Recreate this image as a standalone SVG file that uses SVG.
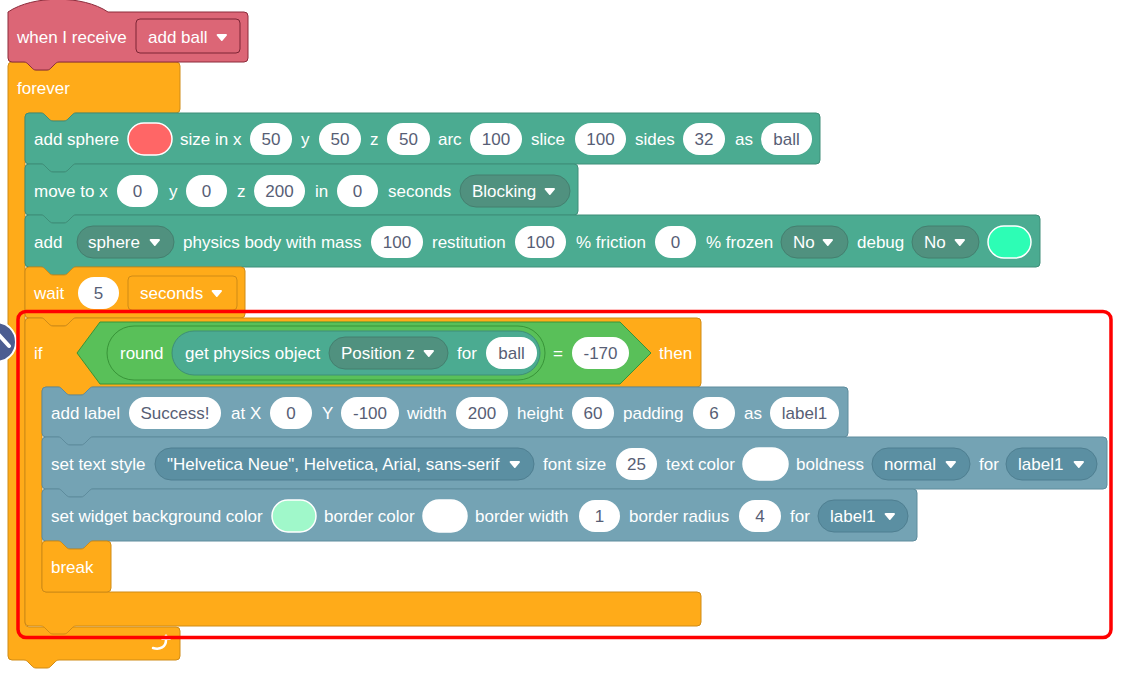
<svg xmlns="http://www.w3.org/2000/svg" width="1124" height="674" viewBox="0 0 1124 674">
  <defs>
    <style>
      text { font-family: "Liberation Sans", Arial, sans-serif; font-size: 17px; fill: #ffffff; }
      .v { fill: #575E75; text-anchor: middle; }
      .blk { stroke-width: 1; }
      .orange { fill: #FFAB19; stroke: #CF8B17; }
      .teal { fill: #4BAB91; stroke: #3E8E78; }
      .slate { fill: #74A3B4; stroke: #5E8C9D; }
      .green { fill: #59C059; stroke: #389438; }
      .pink { fill: #DC6676; stroke: #8C2B3B; }
      .field { fill: #ffffff; stroke: none; }
      .dd-teal { fill: #50917F; stroke: #447F6F; }
      .dd-slate { fill: #5B8FA2; stroke: #4F7F91; }
      .dd-orange { fill: #FFAB19; stroke: #CF8B17; }
      .dd-pink { fill: #DC6676; stroke: #7D2535; }
      .swatch { stroke: #ffffff; stroke-width: 1.5; }
    </style>
    <path id="tri" d="M0,0 h10 a1,1 0 0 1 0.8,1.6 l-4.2,4.8 a1,1 0 0 1 -1.6,0 l-4.2,-4.8 a1,1 0 0 1 0.8,-1.6 z" fill="#ffffff"/>
  </defs>

  <!-- forever loop (C block) -->
  <g id="forever">
    <path class="blk orange" d="M8,66 a4,4 0 0 1 4,-4 h12 c2,0 3,1 4,2 l4,4 c1,1 2,2 4,2 h11 c2,0 3,-1 4,-2 l4,-4 c1,-1 2,-2 4,-2 H176 a4,4 0 0 1 4,4 V109 a4,4 0 0 1 -4,4 H76 c-2,0 -3,1 -4,2 l-4,4 c-1,1 -2,2 -4,2 h-11 c-2,0 -3,-1 -4,-2 l-4,-4 c-1,-1 -2,-2 -4,-2 H29 a4,4 0 0 0 -4,4 V623 a4,4 0 0 0 4,4 H176 a4,4 0 0 1 4,4 V656 a4,4 0 0 1 -4,4 H59 c-2,0 -3,1 -4,2 l-4,4 c-1,1 -2,2 -4,2 h-11 c-2,0 -3,-1 -4,-2 l-4,-4 c-1,-1 -2,-2 -4,-2 H12 a4,4 0 0 1 -4,-4 Z"/>
    <text x="17" y="94">forever</text>
    <path d="M153,648 c7,2 13,-1 13,-8" fill="none" stroke="#ffffff" stroke-width="2.5" stroke-linecap="round"/>
    <path d="M161,640 l5,-6 l5,6 z" fill="#ffffff"/>
  </g>

  <!-- hat block -->
  <g id="when-i-receive">
    <path class="blk pink" d="M8,12 c25,-17 75,-17 100,0 H244 a4,4 0 0 1 4,4 V58 a4,4 0 0 1 -4,4 H59 c-2,0 -3,1 -4,2 l-4,4 c-1,1 -2,2 -4,2 h-11 c-2,0 -3,-1 -4,-2 l-4,-4 c-1,-1 -2,-2 -4,-2 H12 a4,4 0 0 1 -4,-4 Z"/>
    <text x="17" y="43">when I receive</text>
    <rect class="dd-pink" x="136" y="19" width="104" height="34" rx="4"/>
    <text x="148" y="43">add ball</text>
    <use href="#tri" x="216" y="34"/>
  </g>

  <!-- add sphere -->
  <g id="add-sphere">
    <path class="blk teal" d="M25,117 a4,4 0 0 1 4,-4 h12 c2,0 3,1 4,2 l4,4 c1,1 2,2 4,2 h11 c2,0 3,-1 4,-2 l4,-4 c1,-1 2,-2 4,-2 H816 a4,4 0 0 1 4,4 V160 a4,4 0 0 1 -4,4 H76 c-2,0 -3,1 -4,2 l-4,4 c-1,1 -2,2 -4,2 h-11 c-2,0 -3,-1 -4,-2 l-4,-4 c-1,-1 -2,-2 -4,-2 H29 a4,4 0 0 1 -4,-4 Z"/>
    <text x="34" y="145">add sphere</text>
    <rect class="swatch" x="128" y="123" width="44" height="32" rx="16" fill="#FF6666"/>
    <text x="180" y="145">size in x</text>
    <rect class="field" x="250" y="123" width="42" height="32" rx="16"/>
    <text class="v" x="271" y="145">50</text>
    <text x="301" y="145">y</text>
    <rect class="field" x="319" y="123" width="42" height="32" rx="16"/>
    <text class="v" x="340" y="145">50</text>
    <text x="370" y="145">z</text>
    <rect class="field" x="387" y="123" width="43" height="32" rx="16"/>
    <text class="v" x="408.5" y="145">50</text>
    <text x="438" y="145">arc</text>
    <rect class="field" x="470" y="123" width="52" height="32" rx="16"/>
    <text class="v" x="496" y="145">100</text>
    <text x="531" y="145">slice</text>
    <rect class="field" x="575" y="123" width="51" height="32" rx="16"/>
    <text class="v" x="600.5" y="145">100</text>
    <text x="635" y="145">sides</text>
    <rect class="field" x="683" y="123" width="42" height="32" rx="16"/>
    <text class="v" x="704" y="145">32</text>
    <text x="735" y="145">as</text>
    <rect class="field" x="761" y="123" width="51" height="32" rx="16"/>
    <text class="v" x="786.5" y="145">ball</text>
  </g>

  <!-- move to -->
  <g id="move-to">
    <path class="blk teal" d="M25,168 a4,4 0 0 1 4,-4 h12 c2,0 3,1 4,2 l4,4 c1,1 2,2 4,2 h11 c2,0 3,-1 4,-2 l4,-4 c1,-1 2,-2 4,-2 H574 a4,4 0 0 1 4,4 V211 a4,4 0 0 1 -4,4 H76 c-2,0 -3,1 -4,2 l-4,4 c-1,1 -2,2 -4,2 h-11 c-2,0 -3,-1 -4,-2 l-4,-4 c-1,-1 -2,-2 -4,-2 H29 a4,4 0 0 1 -4,-4 Z"/>
    <text x="34" y="197">move to x</text>
    <rect class="field" x="117" y="175" width="41" height="32" rx="16"/>
    <text class="v" x="137.5" y="197">0</text>
    <text x="169" y="197">y</text>
    <rect class="field" x="186" y="175" width="41" height="32" rx="16"/>
    <text class="v" x="206.5" y="197">0</text>
    <text x="237" y="197">z</text>
    <rect class="field" x="254" y="175" width="51" height="32" rx="16"/>
    <text class="v" x="279.5" y="197">200</text>
    <text x="315" y="197">in</text>
    <rect class="field" x="337" y="175" width="41" height="32" rx="16"/>
    <text class="v" x="357.5" y="197">0</text>
    <text x="388" y="197">seconds</text>
    <rect class="dd-teal" x="460" y="175" width="110" height="32" rx="16"/>
    <text x="472" y="197">Blocking</text>
    <use href="#tri" x="544" y="188"/>
  </g>

  <!-- physics body -->
  <g id="add-physics-body">
    <path class="blk teal" d="M25,219 a4,4 0 0 1 4,-4 h12 c2,0 3,1 4,2 l4,4 c1,1 2,2 4,2 h11 c2,0 3,-1 4,-2 l4,-4 c1,-1 2,-2 4,-2 H1036 a4,4 0 0 1 4,4 V263 a4,4 0 0 1 -4,4 H76 c-2,0 -3,1 -4,2 l-4,4 c-1,1 -2,2 -4,2 h-11 c-2,0 -3,-1 -4,-2 l-4,-4 c-1,-1 -2,-2 -4,-2 H29 a4,4 0 0 1 -4,-4 Z"/>
    <text x="34" y="248">add</text>
    <rect class="dd-teal" x="77" y="226" width="97" height="32" rx="16"/>
    <text x="88" y="248">sphere</text>
    <use href="#tri" x="149" y="239"/>
    <text x="183" y="248">physics body with mass</text>
    <rect class="field" x="371" y="226" width="52" height="32" rx="16"/>
    <text class="v" x="397" y="248">100</text>
    <text x="432" y="248">restitution</text>
    <rect class="field" x="515" y="226" width="51" height="32" rx="16"/>
    <text class="v" x="540.5" y="248">100</text>
    <text x="576" y="248">% friction</text>
    <rect class="field" x="655" y="226" width="41" height="32" rx="16"/>
    <text class="v" x="675.5" y="248">0</text>
    <text x="706" y="248">% frozen</text>
    <rect class="dd-teal" x="781" y="226" width="67" height="32" rx="16"/>
    <text x="793" y="248">No</text>
    <use href="#tri" x="822" y="239"/>
    <text x="857" y="248">debug</text>
    <rect class="dd-teal" x="912" y="226" width="67" height="32" rx="16"/>
    <text x="924" y="248">No</text>
    <use href="#tri" x="954" y="239"/>
    <rect class="swatch" x="988" y="226" width="43" height="32" rx="16" fill="#2DFDB5"/>
  </g>

  <!-- wait -->
  <g id="wait">
    <path class="blk orange" d="M25,271 a4,4 0 0 1 4,-4 h12 c2,0 3,1 4,2 l4,4 c1,1 2,2 4,2 h11 c2,0 3,-1 4,-2 l4,-4 c1,-1 2,-2 4,-2 H241 a4,4 0 0 1 4,4 V314 a4,4 0 0 1 -4,4 H76 c-2,0 -3,1 -4,2 l-4,4 c-1,1 -2,2 -4,2 h-11 c-2,0 -3,-1 -4,-2 l-4,-4 c-1,-1 -2,-2 -4,-2 H29 a4,4 0 0 1 -4,-4 Z"/>
    <text x="34" y="299">wait</text>
    <rect class="field" x="78" y="277" width="41" height="32" rx="16"/>
    <text class="v" x="98.5" y="299">5</text>
    <rect class="dd-orange" x="128" y="276" width="109" height="34" rx="4"/>
    <text x="140" y="299">seconds</text>
    <use href="#tri" x="211" y="290"/>
  </g>

  <!-- if ... then (C block) -->
  <g id="if-then">
    <path class="blk orange" d="M25,322 a4,4 0 0 1 4,-4 h12 c2,0 3,1 4,2 l4,4 c1,1 2,2 4,2 h11 c2,0 3,-1 4,-2 l4,-4 c1,-1 2,-2 4,-2 H697 a4,4 0 0 1 4,4 V383 a4,4 0 0 1 -4,4 H93 c-2,0 -3,1 -4,2 l-4,4 c-1,1 -2,2 -4,2 h-11 c-2,0 -3,-1 -4,-2 l-4,-4 c-1,-1 -2,-2 -4,-2 H46 a4,4 0 0 0 -4,4 V588 a4,4 0 0 0 4,4 H697 a4,4 0 0 1 4,4 V622 a4,4 0 0 1 -4,4 H76 c-2,0 -3,1 -4,2 l-4,4 c-1,1 -2,2 -4,2 h-11 c-2,0 -3,-1 -4,-2 l-4,-4 c-1,-1 -2,-2 -4,-2 H29 a4,4 0 0 1 -4,-4 Z"/>
    <text x="34" y="359">if</text>
    <polygon class="blk green" points="77,353 100,322 620,322 651,353 620,384 100,384"/>
    <rect class="blk green" x="107" y="326" width="438" height="54" rx="27"/>
    <text x="120" y="359">round</text>
    <rect class="blk teal" x="172" y="331" width="368" height="44" rx="22"/>
    <text x="185" y="359">get physics object</text>
    <rect class="dd-teal" x="329" y="337" width="119" height="32" rx="16"/>
    <text x="341" y="359">Position z</text>
    <use href="#tri" x="423" y="350"/>
    <text x="457" y="359">for</text>
    <rect class="field" x="486" y="337" width="51" height="32" rx="16"/>
    <text class="v" x="511.5" y="359">ball</text>
    <text x="553" y="359">=</text>
    <rect class="field" x="572" y="337" width="57" height="32" rx="16"/>
    <text class="v" x="600.5" y="359">-170</text>
    <text x="659" y="359">then</text>
  </g>

  <!-- add label -->
  <g id="add-label">
    <path class="blk slate" d="M42,391 a4,4 0 0 1 4,-4 h12 c2,0 3,1 4,2 l4,4 c1,1 2,2 4,2 h11 c2,0 3,-1 4,-2 l4,-4 c1,-1 2,-2 4,-2 H844 a4,4 0 0 1 4,4 V433 a4,4 0 0 1 -4,4 H93 c-2,0 -3,1 -4,2 l-4,4 c-1,1 -2,2 -4,2 h-11 c-2,0 -3,-1 -4,-2 l-4,-4 c-1,-1 -2,-2 -4,-2 H46 a4,4 0 0 1 -4,-4 Z"/>
    <text x="51" y="419">add label</text>
    <rect class="field" x="129" y="397" width="92" height="32" rx="16"/>
    <text class="v" x="175" y="419">Success!</text>
    <text x="231" y="419">at X</text>
    <rect class="field" x="270" y="397" width="42" height="32" rx="16"/>
    <text class="v" x="291" y="419">0</text>
    <text x="322" y="419">Y</text>
    <rect class="field" x="341" y="397" width="58" height="32" rx="16"/>
    <text class="v" x="370" y="419">-100</text>
    <text x="407" y="419">width</text>
    <rect class="field" x="456" y="397" width="52" height="32" rx="16"/>
    <text class="v" x="482" y="419">200</text>
    <text x="517" y="419">height</text>
    <rect class="field" x="572" y="397" width="42" height="32" rx="16"/>
    <text class="v" x="593" y="419">60</text>
    <text x="623" y="419">padding</text>
    <rect class="field" x="693" y="397" width="42" height="32" rx="16"/>
    <text class="v" x="714" y="419">6</text>
    <text x="744" y="419">as</text>
    <rect class="field" x="770" y="397" width="69" height="32" rx="16"/>
    <text class="v" x="804.5" y="419">label1</text>
  </g>

  <!-- set text style -->
  <g id="set-text-style">
    <path class="blk slate" d="M42,441 a4,4 0 0 1 4,-4 h12 c2,0 3,1 4,2 l4,4 c1,1 2,2 4,2 h11 c2,0 3,-1 4,-2 l4,-4 c1,-1 2,-2 4,-2 H1103 a4,4 0 0 1 4,4 V485 a4,4 0 0 1 -4,4 H93 c-2,0 -3,1 -4,2 l-4,4 c-1,1 -2,2 -4,2 h-11 c-2,0 -3,-1 -4,-2 l-4,-4 c-1,-1 -2,-2 -4,-2 H46 a4,4 0 0 1 -4,-4 Z"/>
    <text x="51" y="470">set text style</text>
    <rect class="dd-slate" x="155" y="448" width="379" height="32" rx="16"/>
    <text x="167" y="470">"Helvetica Neue", Helvetica, Arial, sans-serif</text>
    <use href="#tri" x="509" y="461"/>
    <text x="543" y="470">font size</text>
    <rect class="field" x="616" y="448" width="41" height="32" rx="16"/>
    <text class="v" x="636.5" y="470">25</text>
    <text x="666" y="470">text color</text>
    <rect class="swatch" x="743" y="448" width="45" height="32" rx="16" fill="#ffffff"/>
    <text x="796" y="470">boldness</text>
    <rect class="dd-slate" x="872" y="448" width="98" height="32" rx="16"/>
    <text x="884" y="470">normal</text>
    <use href="#tri" x="945" y="461"/>
    <text x="979" y="470">for</text>
    <rect class="dd-slate" x="1006" y="448" width="91" height="32" rx="16"/>
    <text x="1018" y="470">label1</text>
    <use href="#tri" x="1073" y="461"/>
  </g>

  <!-- set widget background color -->
  <g id="set-widget-background">
    <path class="blk slate" d="M42,493 a4,4 0 0 1 4,-4 h12 c2,0 3,1 4,2 l4,4 c1,1 2,2 4,2 h11 c2,0 3,-1 4,-2 l4,-4 c1,-1 2,-2 4,-2 H913 a4,4 0 0 1 4,4 V537 a4,4 0 0 1 -4,4 H93 c-2,0 -3,1 -4,2 l-4,4 c-1,1 -2,2 -4,2 h-11 c-2,0 -3,-1 -4,-2 l-4,-4 c-1,-1 -2,-2 -4,-2 H46 a4,4 0 0 1 -4,-4 Z"/>
    <text x="51" y="522">set widget background color</text>
    <rect class="swatch" x="272" y="500" width="44" height="32" rx="16" fill="#A0F8CA"/>
    <text x="324" y="522">border color</text>
    <rect class="swatch" x="423" y="500" width="44" height="32" rx="16" fill="#ffffff"/>
    <text x="475" y="522">border width</text>
    <rect class="field" x="579" y="500" width="41" height="32" rx="16"/>
    <text class="v" x="599.5" y="522">1</text>
    <text x="629" y="522">border radius</text>
    <rect class="field" x="739" y="500" width="42" height="32" rx="16"/>
    <text class="v" x="760" y="522">4</text>
    <text x="790" y="522">for</text>
    <rect class="dd-slate" x="818" y="500" width="90" height="32" rx="16"/>
    <text x="830" y="522">label1</text>
    <use href="#tri" x="884" y="513"/>
  </g>

  <!-- break (cap block) -->
  <g id="break">
    <path class="blk orange" d="M42,545 a4,4 0 0 1 4,-4 h12 c2,0 3,1 4,2 l4,4 c1,1 2,2 4,2 h11 c2,0 3,-1 4,-2 l4,-4 c1,-1 2,-2 4,-2 H107 a4,4 0 0 1 4,4 V588 a4,4 0 0 1 -4,4 H46 a4,4 0 0 1 -4,-4 Z"/>
    <text x="51" y="573">break</text>
  </g>

  <!-- workspace context marker at the left edge -->
  <g id="edge-marker">
    <circle cx="-4" cy="342" r="20" fill="#4C5D91" stroke="#ffffff" stroke-width="2"/>
    <path d="M-1,335 L9,346" stroke="#ffffff" stroke-width="4" stroke-linecap="round"/>
  </g>

  <!-- highlight frame -->
  <g id="highlight">
    <rect x="18" y="311.5" width="1093" height="326" rx="8" fill="none" stroke="#FF0000" stroke-width="3.5"/>
  </g>
</svg>
